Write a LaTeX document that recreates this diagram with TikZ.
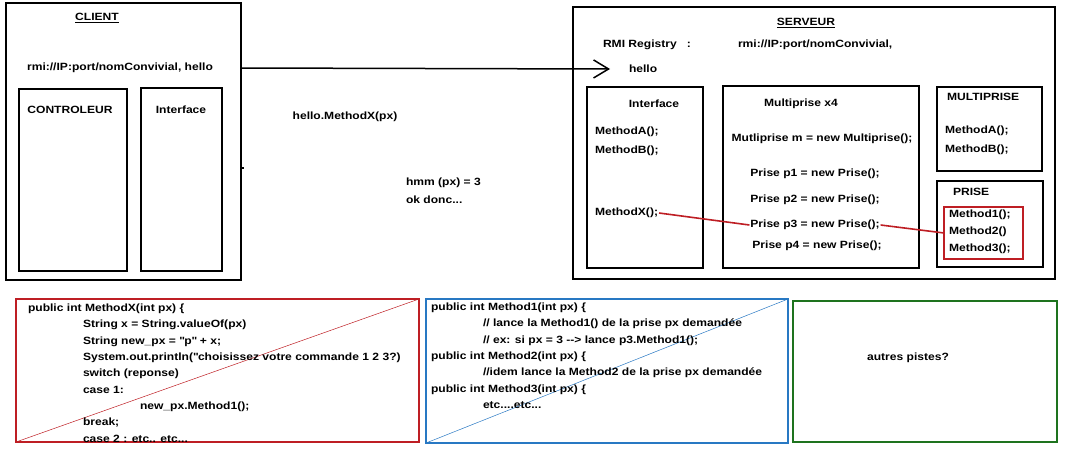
\documentclass[tikz,border=0pt]{standalone}
\usepackage{fontspec}
\setmainfont{Liberation Sans}[FakeStretch=1.15]
\usetikzlibrary{arrows.meta}
\definecolor{codered}{RGB}{190,30,36}
\definecolor{codeblue}{RGB}{40,120,195}
\definecolor{codegreen}{RGB}{30,115,30}

\begin{document}
\begin{tikzpicture}[x=1pt,y=-1pt,
		every node/.style={font=\bfseries\fontsize{10.5}{12}\selectfont, inner sep=1pt, outer sep=0pt},
		box/.style={draw, line width=1.1pt},
		codebox/.style={draw=#1, line width=1.8pt},
		code/.style={anchor=north west, align=left, inner sep=0pt, font=\bfseries\fontsize{10.5}{16.3}\selectfont},
		link/.style={draw=codered, line width=1.6pt}]
		\useasboundingbox (0,0) rectangle (1068,455);
		%client
		\node[box, minimum width=235, minimum height=277] (client) at (123.5,141.5) {};
		\node (clienttitle) at (97,18) {\underline{CLIENT}};
		\node (rmiC) at (120,68) {rmi://IP:port/nomConvivial, hello};
		\node[box, minimum width=108, minimum height=182] (ctrlbox) at (73,180) {};
		\node (ctrl) at (70,110) {CONTROLEUR};
		\node[box, minimum width=81, minimum height=183] (itfCbox) at (181.5,179.5) {};
		\node (itfC) at (181,110) {Interface};
		\draw[line width=1.1pt] (client.east |- 0,168) -- ++(3,0);
		%middle
		\node (call) at (345,117) {hello.MethodX(px)};
		\node[anchor=west] (hmm) at (405,183) {hmm (px) = 3};
		\node[anchor=west] (okdonc) at (405,200) {ok donc...};
		%serveur
		\node[box, minimum width=482, minimum height=272] (serveur) at (814,143) {};
		\node (serveurtitle) at (806,23) {\underline{SERVEUR}};
		\node[anchor=west] (registry) at (602,45) {RMI Registry \ \ :};
		\node[anchor=west] (rmiS) at (737,45) {rmi://IP:port/nomConvivial,};
		\node[anchor=west] (hello) at (628,69) {hello};
		%interface (serveur)
		\node[box, minimum width=116, minimum height=181] (itfSbox) at (645,177.5) {};
		\node (itfS) at (654,104) {Interface};
		\node[anchor=west] (mA) at (594,132) {MethodA();};
		\node[anchor=west] (mB) at (594,151) {MethodB();};
		\node[anchor=west] (mX) at (594,213) {MethodX();};
		%multiprise x4
		\node[box, minimum width=196, minimum height=182] (mpbox) at (821,177) {};
		\node (mptitle) at (801,104) {Multiprise x4};
		\node (mpnew) at (822,139) {Mutliprise m = new Multiprise();};
		\node (p1) at (815,174) {Prise p1 = new Prise();};
		\node (p2) at (815,200) {Prise p2 = new Prise();};
		\node (p3) at (815,225) {Prise p3 = new Prise();};
		\node (p4) at (817,246) {Prise p4 = new Prise();};
		%classe MULTIPRISE
		\node[box, minimum width=105, minimum height=84] (mpclass) at (989.5,129) {};
		\node[anchor=west] (mpclasstitle) at (946,97) {MULTIPRISE};
		\node[anchor=west] (mpA) at (944,131) {MethodA();};
		\node[anchor=west] (mpB) at (944,150) {MethodB();};
		%classe PRISE
		\node[box, minimum width=106, minimum height=86] (prise) at (990,224) {};
		\node[anchor=west] (prisetitle) at (952,192) {PRISE};
		\node[codebox=codered, line width=1.6pt, minimum width=79, minimum height=52] (methods) at (983.5,233) {};
		\node[anchor=west] (m1) at (948,215) {Method1();};
		\node[anchor=west] (m2) at (948,232) {Method2()};
		\node[anchor=west] (m3) at (948,249) {Method3();};
		%connections
		\draw[line width=1.5pt, -{Straight Barb[length=15pt,width=18pt]}] (rmiC.east -| client.east) -- ([xshift=-18pt]hello.west);
		\draw[link] (mX.east) -- (p3.west);
		\draw[link] (p3.east) -- (methods.west);
		%code
		\node[codebox=codered, minimum width=403, minimum height=143] (codeX) at (217.5,370.5) {};
		\draw[codered, line width=0.5pt] (codeX.south west) -- (codeX.north east);
		\node[code] (codeXtxt) at (28,304) {public int MethodX(int px) \{\\
			\hspace*{55pt}String x = String.valueOf(px)\\
			\hspace*{55pt}String new\_px = \textquotedbl p\textquotedbl\ + x;\\
			\hspace*{55pt}System.out.println(\textquotedbl choisissez votre commande 1 2 3?)\\
			\hspace*{55pt}switch (reponse)\\
			\hspace*{55pt}case 1:\\
			\hspace*{112pt}new\_px.Method1();\\
			\hspace*{55pt}break;\\
			\hspace*{55pt}case 2 : etc.. etc...};
		\node[codebox=codeblue, minimum width=362, minimum height=144] (code1) at (607,371) {};
		\draw[codeblue, line width=0.5pt] (code1.south west) -- (code1.north east);
		\node[code] (code1txt) at (431,303) {public int Method1(int px) \{\\
			\hspace*{52pt}// lance la Method1() de la prise px demandée\\
			\hspace*{52pt}// ex: si px = 3 -{}-> lance p3.Method1();\\
			public int Method2(int px) \{\\
			\hspace*{52pt}//idem lance la Method2 de la prise px demandée\\
			public int Method3(int px) \{\\
			\hspace*{52pt}etc....etc...};
		\node[codebox=codegreen, minimum width=264, minimum height=141] (autres) at (925,371.5) {};
		\node (autrestxt) at (908,358) {autres pistes?};
\end{tikzpicture}
\end{document}
